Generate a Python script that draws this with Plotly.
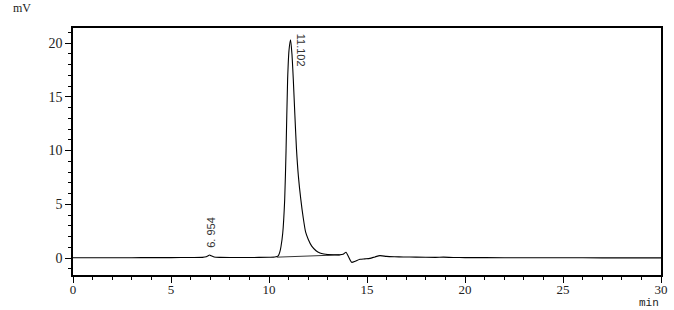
import plotly.graph_objects as go

# Chromatogram signal (min, mV)
time_min = [0, 1, 2, 3, 4, 5, 6, 6.6, 6.8, 6.9, 6.97, 7.05, 7.2, 7.5, 8, 9, 10, 10.3,
            10.47, 10.55, 10.61, 10.7, 10.8, 10.87, 10.95, 11.02, 11.1, 11.17, 11.24,
            11.32, 11.4, 11.5, 11.62, 11.75, 11.87, 12.0, 12.18, 12.4, 12.6, 12.8,
            13.0, 13.3, 13.6, 13.78, 13.93, 14.05, 14.22, 14.4, 14.64, 14.9, 15.15,
            15.4, 15.66, 16.0, 16.4, 16.85, 17.5, 18.5, 18.9, 19.4, 20, 22, 24, 26, 28, 30]
signal_mv = [0.02, 0.02, 0.03, 0.03, 0.04, 0.04, 0.05, 0.06, 0.12, 0.22, 0.28, 0.2, 0.09, 0.06, 0.05, 0.05, 0.07, 0.09,
             0.2, 0.55, 1.05, 2.3, 5.4, 10.0, 16.6, 19.3, 20.3, 19.0, 16.6,
             13.3, 10.2, 7.6, 5.5, 3.7, 2.4, 1.75, 1.1, 0.68, 0.47, 0.37,
             0.32, 0.3, 0.29, 0.34, 0.53, 0.15, -0.4, -0.3, -0.12, -0.08, -0.03,
             0.1, 0.22, 0.15, 0.12, 0.1, 0.08, 0.06, 0.08, 0.05, 0.04, 0.03, 0.02, 0.02, 0.01, 0.01]

# Integration baseline under the main peak
baseline_t = [10.4, 13.6]
baseline_mv = [0.08, 0.29]

# Peak labels
peak_rt = [6.954, 11.102]
peak_h = [0.28, 20.3]
peak_text = ["6. 954", "11.102"]

fig = go.Figure()
fig.add_trace(go.Scatter(x=time_min, y=signal_mv, mode="lines",
                         line=dict(color="black", width=1.1, shape="spline", smoothing=0.6),
                         hoverinfo="skip", showlegend=False))
fig.add_trace(go.Scatter(x=baseline_t, y=baseline_mv, mode="lines",
                         line=dict(color="black", width=0.8),
                         hoverinfo="skip", showlegend=False))

# label for small peak: reads bottom-to-top, above the peak
fig.add_annotation(x=peak_rt[0], y=peak_h[0], text=peak_text[0], textangle=-90,
                   showarrow=False, xanchor="center", yanchor="bottom", xshift=1, yshift=5,
                   font=dict(family="Liberation Sans", size=11, color="#333"))
# label for main peak: reads top-to-bottom, right of the apex
fig.add_annotation(x=peak_rt[1], y=peak_h[1], text=peak_text[1], textangle=90,
                   showarrow=False, xanchor="left", yanchor="top", xshift=2, yshift=8,
                   font=dict(family="Liberation Sans", size=11, color="#333"))

fig.add_annotation(xref="paper", yref="paper", x=-0.105, y=1.0, yshift=20, text="mV",
                   showarrow=False, xanchor="left", yanchor="middle",
                   font=dict(family="Liberation Serif", size=12, color="#222"))
fig.add_annotation(xref="paper", yref="paper", x=1.0, y=0, yshift=-28, text="min",
                   showarrow=False, xanchor="right", yanchor="middle",
                   font=dict(family="Liberation Mono", size=11, color="#222"))

fig.update_layout(
    template="none",
    width=674, height=310,
    margin=dict(l=73, r=13, t=28, b=35, pad=0, autoexpand=False),
    paper_bgcolor="white", plot_bgcolor="white",
    font=dict(family="Liberation Serif", size=14, color="#222"),
    xaxis=dict(range=[0, 30], tick0=0, dtick=5, ticks="outside", ticklen=6, tickwidth=1.2,
               tickcolor="black", showline=True, linecolor="black", linewidth=1.5,
               mirror=True, showgrid=False, zeroline=False, automargin=False,
               ticklabelstandoff=-4, tickfont=dict(size=13),
               minor=dict(dtick=1, ticks="outside", ticklen=3, tickcolor="black", tickwidth=1)),
    yaxis=dict(range=[-1.58, 21.4], tick0=0, dtick=5, ticks="outside", ticklen=6, tickwidth=1.2,
               tickcolor="black", showline=True, linecolor="black", linewidth=1.5,
               mirror=True, showgrid=False, zeroline=False, automargin=False,
               minor=dict(dtick=1, ticks="outside", ticklen=3, tickcolor="black", tickwidth=1)),
)

fig.write_html("out.html")
